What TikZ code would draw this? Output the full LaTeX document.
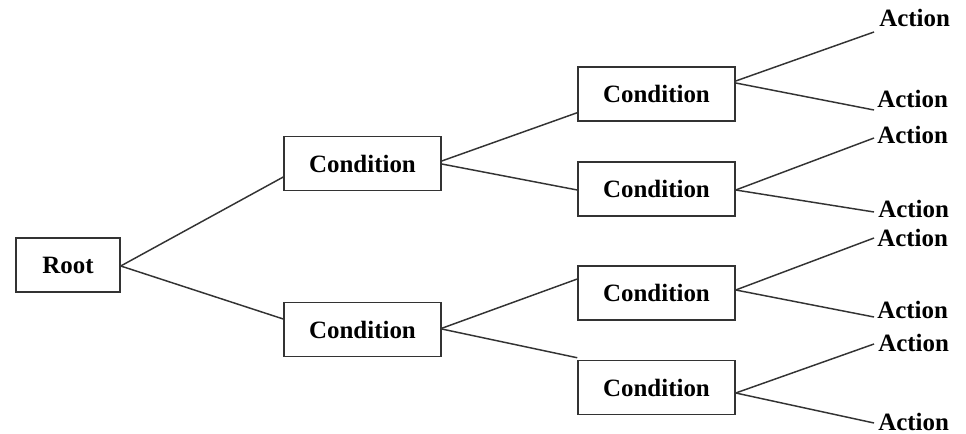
\documentclass[tikz,border=0pt]{standalone}
\usepackage{fontspec}
\setmainfont{Liberation Serif}
\usetikzlibrary{calc}
\begin{document}
\begin{tikzpicture}[x=0.75pt,y=-0.75pt,
  box/.style={draw=black!80,line width=1.1pt,fill=white,inner sep=0pt,
    minimum width=117.75pt,minimum height=40.5pt,
    font=\fontsize{18.7}{20}\selectfont\bfseries},
  rootbox/.style={box,minimum width=78pt},
  act/.style={inner sep=0pt,anchor=base west,font=\fontsize{18.7}{20}\selectfont\bfseries},
  link/.style={draw=black!80,line width=1.1pt}]
\useasboundingbox (0,0) rectangle (966,434);
\fill[white] (0,0) rectangle (966,434);
% nodes
\node[rootbox] (root) at (68,265) {Root};
\node[box] (c1) at (362.5,163.5) {Condition};
\node[box] (c2) at (362.5,329.5) {Condition};
\node[box] (c11) at (656.5,94) {Condition};
\node[box] (c12) at (656.5,189) {Condition};
\node[box] (c21) at (656.5,293) {Condition};
\node[box] (c22) at (656.5,387.5) {Condition};
\node[act] (a1) at (879,27) {Action};
\node[act] (a2) at (877,108) {Action};
\node[act] (a3) at (877,144) {Action};
\node[act] (a4) at (878,218) {Action};
\node[act] (a5) at (877,247) {Action};
\node[act] (a6) at (877,318) {Action};
\node[act] (a7) at (878,351) {Action};
\node[act] (a8) at (878,430) {Action};
% connectors
\draw[link] ($(root.east)+(0,1)$) -- ($(c1.west)+(0,13.5)$);
\draw[link] ($(root.east)+(0,1)$) -- ($(c2.west)+(0,-10.5)$);
\draw[link] ($(c1.east)+(0,-2.5)$) -- ($(c11.west)+(0,18.7)$);
\draw[link] ($(c1.east)+(0,0.5)$) -- ($(c12.west)+(0,1)$);
\draw[link] ($(c2.east)+(0,-1.2)$) -- ($(c21.west)+(0,-14)$);
\draw[link] ($(c2.east)+(0,-0.5)$) -- ($(c22.north west)+(0,-2)$);
\draw[link] ($(c11.east)+(0,-13)$) -- ($(a1.base west)+(-5,5)$);
\draw[link] ($(c11.east)+(0,-11)$) -- ($(a2.base west)+(-3,2)$);
\draw[link] ($(c12.east)+(0,1)$) -- ($(a3.base west)+(-3,-6)$);
\draw[link] ($(c12.east)+(0,1)$) -- ($(a4.base west)+(-4,-6)$);
\draw[link] ($(c21.east)+(0,-3)$) -- ($(a5.base west)+(-3,-9)$);
\draw[link] ($(c21.east)+(0,-3)$) -- ($(a6.base west)+(-3,-1)$);
\draw[link] ($(c22.east)+(0,5.5)$) -- ($(a7.base west)+(-4,-7)$);
\draw[link] ($(c22.east)+(0,5.5)$) -- ($(a8.base west)+(-4,-7)$);
\end{tikzpicture}
\end{document}
